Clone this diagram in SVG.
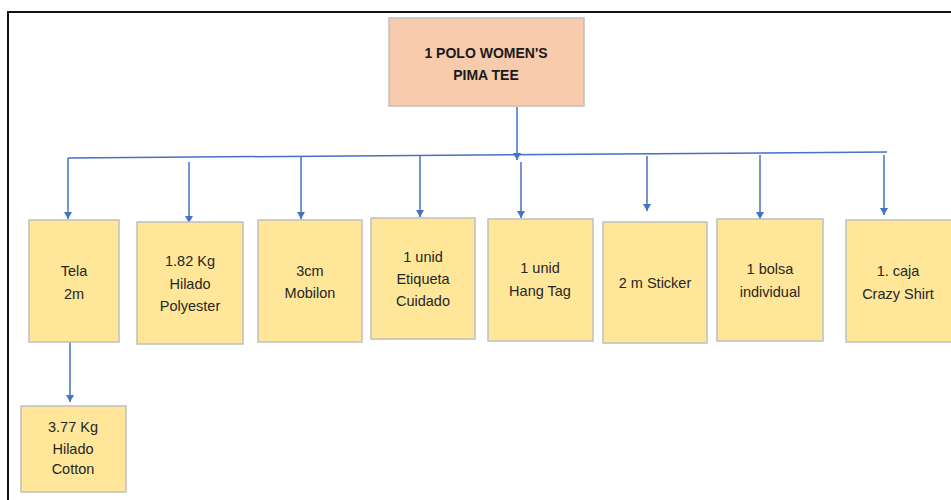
<svg xmlns="http://www.w3.org/2000/svg" width="951" height="500" viewBox="0 0 951 500">
  <style>
    .top { fill: #F8CBAD; stroke: #BFBFBF; stroke-width: 1.5; }
    .item { fill: #FFE699; stroke: #BFBFBF; stroke-width: 1.5; }
    .lbl { font-family: "Liberation Sans", Arial, sans-serif; font-size: 14.5px; fill: #262626; text-anchor: middle; }
    .ttl { font-family: "Liberation Sans", Arial, sans-serif; font-size: 14px; font-weight: bold; fill: #1a1a1a; text-anchor: middle; }
    .wire { stroke: #4472C4; stroke-width: 1.5; fill: none; }
  </style>
  <defs>
    <marker id="tip" markerUnits="userSpaceOnUse" markerWidth="10" markerHeight="10" refX="5" refY="8" viewBox="0 0 10 10" orient="0">
      <path d="M1,1 L9,1 L5,8 Z" fill="#4472C4"/>
    </marker>
  </defs>

  <rect width="951" height="500" fill="#FFFFFF"/>
  <!-- frame -->
  <path d="M8,500 L8,12 L951,12" fill="none" stroke="#111111" stroke-width="2"/>

  <!-- connectors -->
  <g id="connectors">
    <path class="wire" d="M517,107 L517,160" marker-end="url(#tip)"/>
    <path class="wire" d="M68,158 L887,152"/>
    <path class="wire" d="M68,158 L68,219" marker-end="url(#tip)"/>
    <path class="wire" d="M189,162 L189,223" marker-end="url(#tip)"/>
    <path class="wire" d="M301,156 L301,219" marker-end="url(#tip)"/>
    <path class="wire" d="M420,156 L420,217" marker-end="url(#tip)"/>
    <path class="wire" d="M521,162 L521,218" marker-end="url(#tip)"/>
    <path class="wire" d="M647,156 L647,211" marker-end="url(#tip)"/>
    <path class="wire" d="M760,155 L760,219" marker-end="url(#tip)"/>
    <path class="wire" d="M884,155 L884,215" marker-end="url(#tip)"/>
    <path class="wire" d="M70,342 L70,402" marker-end="url(#tip)"/>
  </g>

  <g id="polo">
    <rect class="top" x="389" y="18" width="195" height="88"/>
    <text class="ttl" x="486" y="58">1 POLO WOMEN'S</text>
    <text class="ttl" x="486" y="80">PIMA TEE</text>
  </g>

  <g id="tela">
    <rect class="item" x="29" y="220" width="90" height="122"/>
    <text class="lbl" x="74" y="276">Tela</text>
    <text class="lbl" x="74" y="299">2m</text>
  </g>

  <g id="hilado-polyester">
    <rect class="item" x="137" y="222" width="106" height="122"/>
    <text class="lbl" x="190" y="266">1.82 Kg</text>
    <text class="lbl" x="190" y="289">Hilado</text>
    <text class="lbl" x="190" y="311">Polyester</text>
  </g>

  <g id="mobilon">
    <rect class="item" x="258" y="220" width="104" height="122"/>
    <text class="lbl" x="310" y="276">3cm</text>
    <text class="lbl" x="310" y="298">Mobilon</text>
  </g>

  <g id="etiqueta">
    <rect class="item" x="371" y="218" width="104" height="121"/>
    <text class="lbl" x="423" y="262">1 unid</text>
    <text class="lbl" x="423" y="284">Etiqueta</text>
    <text class="lbl" x="423" y="306">Cuidado</text>
  </g>

  <g id="hang-tag">
    <rect class="item" x="488" y="219" width="105" height="122"/>
    <text class="lbl" x="540" y="273">1 unid</text>
    <text class="lbl" x="540" y="296">Hang Tag</text>
  </g>

  <g id="sticker">
    <rect class="item" x="603" y="222" width="104" height="121"/>
    <text class="lbl" x="655" y="288">2 m Sticker</text>
  </g>

  <g id="bolsa">
    <rect class="item" x="717" y="219" width="106" height="122"/>
    <text class="lbl" x="770" y="274">1 bolsa</text>
    <text class="lbl" x="770" y="297">individual</text>
  </g>

  <g id="caja">
    <rect class="item" x="846" y="220" width="106" height="122"/>
    <text class="lbl" x="898" y="276">1. caja</text>
    <text class="lbl" x="898" y="299">Crazy Shirt</text>
  </g>

  <g id="hilado-cotton">
    <rect class="item" x="21" y="406" width="105" height="86"/>
    <text class="lbl" x="73" y="432">3.77 Kg</text>
    <text class="lbl" x="73" y="454">Hilado</text>
    <text class="lbl" x="73" y="474">Cotton</text>
  </g>
</svg>
